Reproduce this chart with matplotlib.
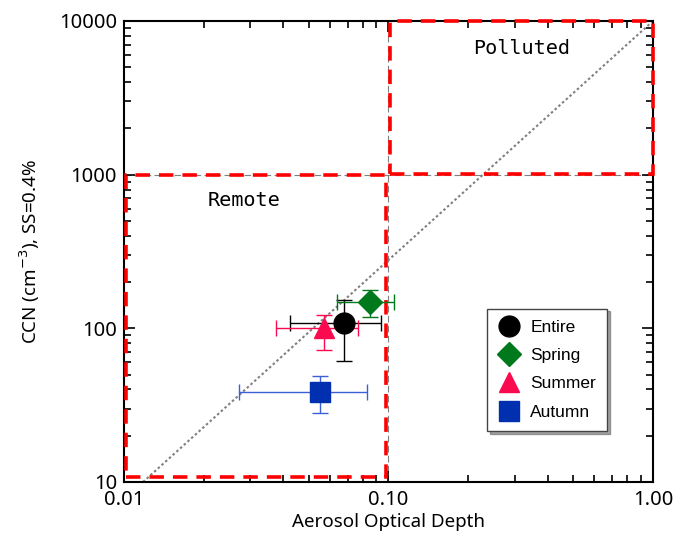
import numpy as np
import matplotlib.pyplot as plt
from matplotlib.patches import Rectangle
import matplotlib.ticker as mticker

plt.rcParams['font.family'] = ['Noto Sans', 'DejaVu Sans']

# seasonal means of AOD and CCN with their ranges
seasons = ["Entire", "Spring", "Summer", "Autumn"]
aod = [0.068, 0.085, 0.057, 0.055]
aod_lo = [0.0425, 0.064, 0.0376, 0.0273]
aod_hi = [0.094, 0.105, 0.0764, 0.0827]
ccn = [108, 148, 100, 38.3]
ccn_lo = [61, 119, 72, 28.2]
ccn_hi = [154, 178, 123, 49]

markers = ["o", "D", "^", "s"]
colors = ["black", "#00791c", "#fb0a4f", "#0030b0"]
bar_colors = ["black", "#00791c", "#fb0a4f", "#3a5fd6"]
sizes = [15, 12, 15, 14]

# fitted relation drawn as a dotted line
fit_aod = [0.0118, 1.0]
fit_ccn = [10, 10000]

fig = plt.figure(figsize=(6.75, 5.34), dpi=100)
ax = fig.add_axes([0.1837, 0.0974, 0.7837, 0.8633])
ax.set_xscale("log")
ax.set_yscale("log")
ax.set_xlim(0.01, 1)
ax.set_ylim(10, 10000)

ax.axvline(0.1, color="gray", lw=0.8, ls=(0, (6, 3)), zorder=1)
ax.axhline(1000, color="gray", lw=0.8, ls=(0, (6, 3)), zorder=1)
ax.plot(fit_aod, fit_ccn, color="gray", lw=1.5, ls=(0, (1.2, 1.2)), zorder=1)

red_style = dict(fill=False, edgecolor="#ff0000", lw=2.6, ls=(0, (4, 2.5)),
                 clip_on=False, zorder=4)
ax.add_patch(Rectangle((0.0102, 10.7), 0.098 - 0.0102, 1000 - 10.7, **red_style))
ax.add_patch(Rectangle((0.1012, 1010), 1.0 - 0.1012, 10000 - 1010, **red_style))

for i, name in enumerate(seasons):
    xerr = [[aod[i] - aod_lo[i]], [aod_hi[i] - aod[i]]]
    yerr = [[ccn[i] - ccn_lo[i]], [ccn_hi[i] - ccn[i]]]
    ax.errorbar([aod[i]], [ccn[i]], xerr=xerr, yerr=yerr, fmt="none",
                ecolor=bar_colors[i], elinewidth=1.0, capsize=6, capthick=1.0,
                zorder=5)
    ax.plot([aod[i]], [ccn[i]], marker=markers[i], color=colors[i],
            ms=sizes[i], ls="none", label=name, zorder=6)

ax.text(0.0284, 684, "Remote", family="DejaVu Sans Mono", fontsize=14.5,
        va="center", ha="center")
ax.text(0.32, 6670, "Polluted", family="DejaVu Sans Mono", fontsize=14.5,
        va="center", ha="center")

ax.xaxis.set_major_locator(mticker.FixedLocator([0.01, 0.1, 1.0]))
ax.xaxis.set_major_formatter(mticker.FixedFormatter(["0.01", "0.10", "1.00"]))
ax.yaxis.set_major_locator(mticker.FixedLocator([10, 100, 1000, 10000]))
ax.yaxis.set_major_formatter(mticker.FixedFormatter(["10", "100", "1000", "10000"]))
ax.tick_params(which="both", direction="in", top=True, right=True,
               labelsize=14.5, width=1.2)
ax.tick_params(which="major", length=8)
ax.tick_params(axis="x", which="major", pad=6)
ax.tick_params(axis="y", which="major", pad=5)
ax.tick_params(which="minor", length=5)
for s in ax.spines.values():
    s.set_linewidth(1.5)

ax.set_xlabel("Aerosol Optical Depth", fontsize=13.5, labelpad=2)
ax.set_ylabel("CCN (cm$^{-3}$), SS=0.4%", fontsize=13.5, labelpad=12)

leg = ax.legend(loc="lower right", bbox_to_anchor=(0.93, 0.092), frameon=True,
                fancybox=False, shadow=True, edgecolor="#444444",
                prop={"family": "Liberation Sans", "size": 12.5},
                handletextpad=0.55, borderpad=0.65, labelspacing=0.75,
                handlelength=1.3, markerscale=1.0)
leg.get_frame().set_linewidth(1.0)
leg.set_zorder(10)

fig.savefig("out.png", dpi=100)
